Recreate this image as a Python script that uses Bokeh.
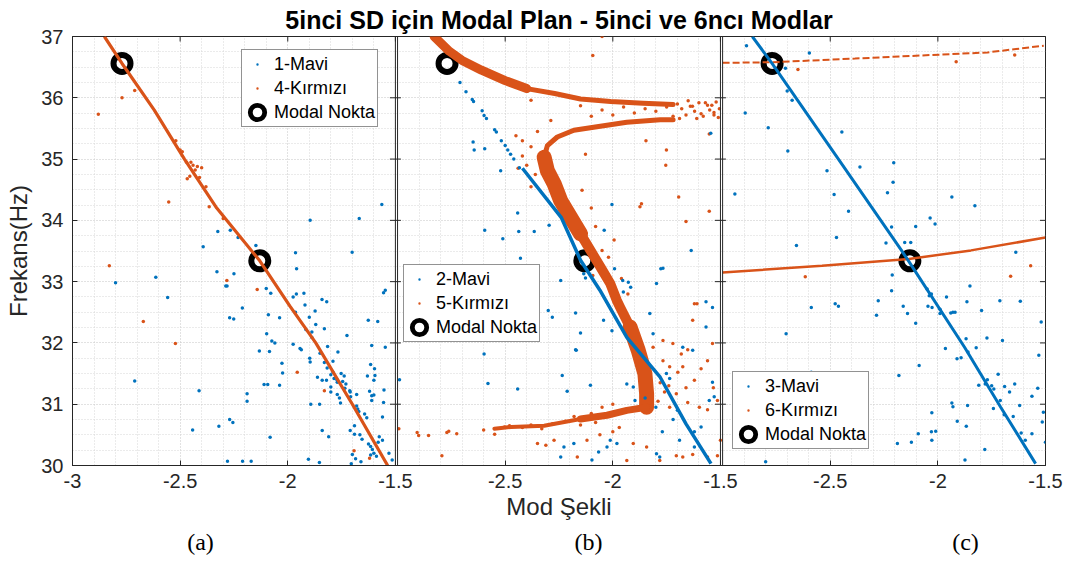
import math
from bokeh.plotting import figure
from bokeh.layouts import column
from bokeh.models import Range1d, FixedTicker, Legend, LegendItem, Span
from bokeh.core.properties import value
from bokeh.embed import file_html
from bokeh.resources import INLINE

BLUE = "#0072BD"
ORANGE = "#D95319"
INK = "#262626"
FONT = "Liberation Sans"

# ---------------- data ----------------
title_text = "5inci SD için Modal Plan - 5inci ve 6ncı Modlar"
x_tick_values = [-3, -2.5, -2, -1.5]
x_tick_labels = ["-3", "-2.5", "-2", "-1.5"]
y_tick_values = [30, 31, 32, 33, 34, 35, 36, 37]
subcaptions = ["(a)", "(b)", "(c)"]
legend_a = ["1-Mavi", "4-Kırmızı", "Modal Nokta"]
legend_b = ["2-Mavi", "5-Kırmızı", "Modal Nokta"]
legend_c = ["3-Mavi", "6-Kırmızı", "Modal Nokta"]

modal_x = [-2.77, -2.13]
modal_y = [36.56, 33.34]

# panel (a)
a_red_line_x = [-2.852, -2.77, -2.62, -2.48, -2.33, -2.13, -1.99, -1.87, -1.70, -1.536]
a_red_line_y = [37.0, 36.56, 35.8, 35.0, 34.2, 33.34, 32.6, 32.0, 31.0, 30.0]
a_red_pts_x = [-2.711, -2.77, -2.88, -2.553, -2.467, -2.455, -2.365, -2.42, -2.40, -2.30, -2.829, -2.671,
               -2.522, -1.956, -1.692, -2.283, -2.142, -2.45, -2.52, -2.49, -1.83, -1.62, -2.47, -2.43,
               -2.41, -2.38, -2.50, -2.44]
a_red_pts_y = [36.12, 36.0, 35.73, 34.30, 34.68, 34.72, 34.22, 34.88, 34.86, 34.03, 33.26, 32.35,
               31.99, 31.52, 30.24, 33.02, 32.87, 34.95, 35.3, 35.12, 31.22, 30.12, 34.95, 34.82,
               34.70, 34.55, 35.15, 34.9]
a_blue_pts_x = [-2.393, -1.964, -1.701, -2.329, -2.25, -2.282, -2.10, -2.079, -1.959, -1.96, -1.925, -1.975,
                -1.841, -1.819, -1.555, -1.547, -2.211, -2.27, -2.251, -2.09, -2.038, -1.873, -1.964, -1.626,
                -1.582, -1.916, -1.888, -1.888, -1.830, -1.725, -2.098, -2.074, -2.06, -2.132, -2.085, -1.975,
                -1.943, -1.937, -1.815, -1.767, -1.61, -1.547, -2.027, -1.898, -1.896, -2.024, -1.862, -1.817,
                -1.80, -1.785, -1.79, -1.772, -1.77, -1.752, -1.738, -1.745, -1.73, -1.735, -1.82, -1.80,
                -1.80, -1.84, -2.11, -2.093, -2.038, -2.412, -2.189, -2.189, -1.893, -1.852, -1.77, -1.76,
                -1.755, -1.71, -1.708, -1.712, -1.68, -1.68, -1.675, -1.67, -1.643, -1.633, -1.62, -1.61,
                -1.60, -1.597, -1.595, -1.60, -1.61, -1.553, -1.555, -1.56, -2.27, -2.255, -2.32, -2.442,
                -2.082, -1.84, -1.81, -1.71, -1.69, -1.665, -1.69, -1.655, -1.625, -1.615, -1.607, -1.60,
                -1.588, -1.58, -1.56, -1.575, -1.70, -1.685, -1.705, -1.66, -1.615, -1.53, -1.515, -2.28,
                -2.21, -2.17, -1.904, -1.853, -2.613, -2.558, -2.288, -2.711, -2.80, -2.325, -2.267, -2.231,
                -1.896, -1.668, -1.563, -2.148, -1.92, -1.90, -1.87, -1.85, -1.83, -1.79, -1.63, -1.615]
a_blue_pts_y = [33.57, 33.47, 33.48, 33.16, 33.13, 32.93, 32.89, 32.81, 33.21, 32.80, 32.81, 32.75,
                32.71, 32.67, 32.82, 32.86, 32.57, 32.41, 32.39, 32.46, 32.41, 32.52, 32.50, 32.37,
                32.35, 32.22, 32.18, 32.09, 32.23, 32.12, 32.15, 32.03, 32.0, 31.87, 31.86, 31.98,
                31.91, 31.89, 31.94, 31.85, 31.96, 31.93, 31.67, 31.75, 31.69, 31.51, 31.44, 31.59,
                31.48, 31.42, 31.52, 31.40, 31.36, 31.50, 31.46, 31.37, 31.33, 31.26, 31.39, 31.28,
                31.20, 31.39, 31.32, 31.32, 31.31, 31.22, 31.17, 31.05, 31.0, 31.0, 31.16, 31.10,
                31.02, 31.20, 31.12, 31.22, 31.16, 30.97, 30.92, 30.88, 30.84, 30.78, 31.21, 31.14,
                31.15, 31.58, 31.47, 31.39, 31.06, 31.23, 31.03, 30.79, 30.75, 30.70, 30.64, 30.58,
                30.46, 30.57, 30.47, 30.57, 30.51, 30.50, 30.65, 30.43, 30.35, 30.31, 30.26, 30.20,
                30.15, 30.38, 30.41, 30.47, 30.18, 30.11, 30.03, 30.06, 30.17, 30.20, 30.09, 30.07,
                30.07, 30.07, 30.10, 30.05, 33.07, 32.74, 32.93, 31.38, 32.98, 33.82, 33.84, 33.72,
                34.0, 34.03, 34.26, 33.59, 32.62, 32.42, 32.30, 31.83, 31.68, 31.70, 31.46, 31.65]

# panel (b)
b_blue_line_x = [-2.42, -2.24, -2.15, -2.06, -1.935, -1.78, -1.66, -1.544]
b_blue_line_y = [34.85, 34.05, 33.35, 32.86, 32.09, 31.44, 30.68, 30.03]
b_blue_pts_x = [-2.710, -2.682, -2.653, -2.647, -2.607, -2.598, -2.587, -2.549, -2.541, -2.518, -2.488, -2.46,
                -2.434, -2.475, -2.50, -2.649, -2.644, -2.595, -2.521, -2.442, -2.595, -2.511, -2.437, -2.365,
                -2.296, -2.429, -2.242, -2.135, -2.127, -2.04, -2.004, -1.954, -1.928, -1.917, -1.992, -1.777,
                -1.797, -1.636, -1.567, -1.951, -2.598, -2.58, -2.442, -2.991, -2.173, -2.15, -2.104, -2.212,
                -2.235, -2.004, -2.043, -2.173, -2.281, -2.30, -1.935, -1.905, -1.897, -2.012, -1.981, -2.027,
                -2.227, -2.181, -2.242, -2.097, -2.066, -1.797, -1.782, -1.69, -1.621, -1.621, -1.59, -1.552,
                -1.529, -1.537, -1.751, -1.736, -1.675, -1.629, -1.813, -1.828, -1.567, -1.537, -1.767, -2.17,
                -1.85, -1.80, -1.72, -1.70, -1.77, -1.545]
b_blue_pts_y = [36.25, 36.10, 35.97, 35.94, 35.79, 35.71, 35.66, 35.48, 35.44, 35.30, 35.15, 35.0,
                34.86, 35.08, 35.22, 35.28, 35.15, 35.17, 34.81, 34.12, 33.84, 33.70, 33.82, 33.82,
                33.92, 33.38, 33.02, 33.13, 33.06, 33.84, 34.26, 33.02, 32.99, 32.91, 33.21, 33.21,
                32.97, 33.51, 32.67, 32.83, 31.82, 31.34, 31.25, 31.40, 31.89, 32.16, 31.31, 31.21,
                31.47, 32.20, 32.37, 32.49, 32.42, 32.53, 31.33, 31.28, 31.06, 30.41, 30.36, 30.30,
                30.30, 30.36, 30.14, 30.09, 30.22, 30.19, 30.14, 30.41, 30.30, 30.55, 30.63, 31.06,
                31.12, 31.36, 31.50, 31.42, 31.93, 31.88, 32.15, 32.48, 32.26, 32.58, 33.22, 31.88,
                31.1, 30.95, 30.75, 30.9, 30.55, 35.42]
# dense orange band of (b), as centre-line pieces
b_red_band_xs = [
    [-2.83, -2.76, -2.70, -2.61, -2.50, -2.40],
    [-2.40, -2.27, -2.15, -2.01, -1.86, -1.72],
    [-1.72, -1.78, -1.935, -2.089, -2.181, -2.258, -2.304, -2.319],
    [-2.319, -2.304, -2.273, -2.242, -2.196, -2.15],
    [-2.15, -2.104, -2.058, -2.012, -1.981, -1.966, -1.92],
    [-1.92, -1.882, -1.851, -1.843, -1.843],
    [-1.843, -1.935, -2.027, -2.15],
    [-2.15, -2.319, -2.472, -2.55],
]
b_red_band_ys = [
    [37.0, 36.76, 36.61, 36.45, 36.28, 36.15],
    [36.15, 36.07, 35.98, 35.94, 35.91, 35.89],
    [35.64, 35.64, 35.60, 35.52, 35.47, 35.36, 35.22, 35.03],
    [35.03, 34.81, 34.60, 34.32, 34.05, 33.78],
    [33.78, 33.51, 33.24, 32.97, 32.69, 32.58, 32.26],
    [32.26, 31.88, 31.50, 31.17, 30.95],
    [30.95, 30.90, 30.82, 30.76],
    [30.76, 30.65, 30.63, 30.60],
]
b_red_pts_x = [-1.65, -1.62, -1.60, -1.58, -1.56, -1.55, -1.53, -1.52, -1.51, -1.505, -1.66, -1.68,
               -1.72, -1.64, -1.75, -1.80, -1.85, -1.9, -1.95, -2.0, -2.05, -2.1, -2.15, -2.093,
               -2.05, -2.38, -2.288, -2.35, -2.42, -2.45, -2.38, -2.42, -2.40, -2.36, -2.38, -2.44,
               -1.846, -1.751, -1.552, -2.127, -2.143, -1.867, -1.874, -1.754, -1.694, -1.552, -1.66, -1.994,
               -2.05, -1.609, -2.093, -2.10, -2.08, -2.02, -1.96, -1.93, -1.767, -1.736, -1.698, -1.66,
               -1.621, -1.59, -1.56, -1.533, -1.514, -1.652, -1.598, -1.56, -1.736, -1.705, -1.682, -1.721,
               -1.767, -1.813, -1.621, -1.629, -1.537, -1.652, -1.675, -1.78, -1.76, -1.79, -1.74, -1.705,
               -1.675, -1.629, -1.56, -1.514, -1.5, -1.782, -1.843, -1.905, -1.935, -2.165, -2.12, -2.35,
               -2.311, -2.273, -2.0, -1.97, -2.06, -2.994, -2.909, -2.902, -2.856, -2.794, -2.771, -2.762,
               -2.725, -2.549, -2.60, -2.503, -2.48, -2.42, -2.38, -2.33, -2.28, -2.22, -2.18, -2.10,
               -2.05, -2.0, -2.08, -2.15, -1.70, -1.63, -1.57, -1.54, -1.61, -1.69, -1.59, -1.53]
b_red_pts_y = [35.95, 35.78, 35.92, 35.70, 35.88, 35.80, 35.76, 35.93, 35.68, 35.82, 35.72, 35.82,
               35.70, 35.86, 35.85, 35.78, 35.82, 35.75, 35.85, 35.72, 35.80, 35.70, 35.87, 36.69,
               37.0, 35.96, 35.63, 35.45, 35.30, 35.38, 35.20, 35.05, 34.90, 34.75, 34.55, 34.85,
               35.30, 35.15, 35.41, 35.08, 34.49, 34.27, 34.22, 34.90, 34.38, 34.15, 33.98, 33.68,
               33.51, 32.64, 33.10, 34.2, 33.9, 33.4, 33.05, 32.8, 31.71, 31.61, 31.52, 31.27,
               31.39, 31.58, 31.71, 31.27, 31.06, 31.03, 30.95, 30.91, 30.95, 31.17, 31.82, 31.99,
               32.04, 31.93, 32.64, 32.37, 31.99, 31.89, 31.61, 31.35, 31.20, 31.05, 31.30, 30.16,
               30.14, 30.18, 30.14, 30.16, 30.41, 30.08, 30.30, 30.36, 30.08, 30.14, 30.41, 30.36,
               30.33, 30.41, 30.55, 30.62, 30.5, 30.60, 30.54, 30.49, 30.49, 30.16, 30.54, 30.56,
               30.52, 30.51, 30.58, 30.63, 30.65, 30.62, 30.66, 30.60, 30.68, 30.72, 30.80, 30.85,
               30.95, 31.0, 30.70, 30.66, 35.90, 35.86, 35.92, 35.88, 35.66, 35.66, 35.74, 35.72]

# panel (c)
c_blue_line_x = [-2.862, -2.772, -2.462, -2.169, -2.135, -1.876, -1.708, -1.546]
c_blue_line_y = [37.0, 36.57, 35.0, 33.51, 33.33, 31.93, 30.95, 30.03]
c_red_top_x = [-3.0, -2.77, -2.385, -2.077, -1.769, -1.508]
c_red_top_y = [36.57, 36.58, 36.64, 36.69, 36.74, 36.85]
c_red_low_x = [-3.0, -2.538, -2.135, -1.846, -1.5]
c_red_low_y = [33.15, 33.26, 33.37, 33.51, 33.72]
c_red_pts_x = [-2.65, -1.915, -1.643, -2.616, -1.662, -1.569]
c_red_pts_y = [36.46, 36.59, 36.70, 33.08, 33.09, 33.26]
c_blue_pts_x = [-2.889, -2.597, -2.708, -2.700, -2.677, -2.895, -2.788, -2.697, -2.446, -2.515, -2.362, -2.205,
                -2.208, -2.234, -2.943, -2.482, -2.415, -1.935, -1.828, -2.036, -2.013, -2.471, -2.657, -2.241,
                -2.215, -2.154, -2.126, -2.103, -1.638, -2.212, -2.215, -2.277, -2.285, -2.477, -2.462, -2.588,
                -2.705, -2.161, -2.141, -2.103, -2.04, -2.046, -2.027, -1.99, -1.96, -1.93, -1.94, -1.92,
                -1.865, -1.797, -1.851, -1.712, -1.617, -1.52, -1.772, -1.869, -1.965, -1.911, -1.892, -1.822,
                -1.70, -1.531, -2.087, -2.181, -2.588, -1.81, -1.78, -1.75, -1.72, -1.69, -1.643, -1.667,
                -1.536, -1.563, -1.862, -1.742, -1.71, -1.692, -1.62, -1.935, -1.93, -1.91, -1.868, -1.515,
                -1.51, -2.028, -2.01, -2.028, -2.091, -2.03, -2.188, -2.123, -1.613, -1.563, -1.594, -1.5,
                -1.874, -1.782, -2.8, -2.05, -2.03, -1.99, -1.86, -1.77, -1.74, -1.65]
c_blue_pts_y = [36.85, 36.73, 36.48, 36.11, 35.96, 35.75, 35.51, 35.13, 35.44, 34.81, 34.87, 34.94,
                34.62, 34.45, 34.43, 34.42, 34.15, 34.38, 34.24, 34.04, 33.94, 33.72, 33.59, 33.63,
                33.89, 33.64, 33.64, 33.90, 33.48, 33.11, 32.85, 32.69, 32.45, 32.64, 32.60, 32.58,
                32.15, 32.60, 32.48, 32.32, 32.77, 32.60, 32.58, 32.48, 32.75, 32.50, 32.49, 32.50,
                32.67, 32.53, 32.93, 32.69, 32.68, 32.34, 32.08, 32.07, 31.91, 31.74, 31.76, 31.92,
                32.04, 31.80, 31.63, 31.47, 31.52, 31.31, 31.33, 31.30, 31.49, 31.29, 31.33, 31.20,
                31.26, 31.13, 30.98, 30.93, 31.06, 30.83, 30.98, 31.02, 30.96, 30.72, 30.64, 30.71,
                30.87, 30.86, 30.56, 30.41, 30.52, 30.55, 30.36, 30.38, 30.53, 30.52, 30.41, 30.38,
                30.09, 30.26, 30.06, 32.88, 32.80, 32.55, 31.85, 31.40, 31.25, 30.80]

# ---------------- layout helpers ----------------
GAP = 0.01
OFFS = [3.0, 4.5 + GAP, 6.0 + 2 * GAP]   # shift of each panel on the shared canvas axis


def sh(vals, k):
    return [v + OFFS[k] for v in vals]


p = figure(width=1071, height=524, x_range=Range1d(0, 4.5 + 2 * GAP), y_range=Range1d(30, 37),
           output_backend="svg", toolbar_location=None,
           min_border_left=72, min_border_right=26, min_border_top=36, min_border_bottom=59)
p.background_fill_color = "white"
p.border_fill_color = "white"
p.outline_line_color = INK

# title
p.title.text = title_text
p.title.align = "center"
p.title.text_font = FONT
p.title.text_font_size = "25px"
p.title.text_font_style = "bold"
p.title.text_color = "black"
p.title.standoff = 5

# x ticks
major_pos, labels = [], {}
for k in range(3):
    for v, lab in zip(x_tick_values, x_tick_labels):
        if k > 0 and v == -3:
            continue
        pos = round(v + OFFS[k], 4)
        major_pos.append(pos)
        labels[pos] = lab
minor_pos = []
for k in range(3):
    for i in range(1, 15):
        if i % 5:
            minor_pos.append(round(-3 + i * 0.1 + OFFS[k], 4))
xt = FixedTicker(ticks=major_pos, minor_ticks=minor_pos)
yt = FixedTicker(ticks=y_tick_values,
                 minor_ticks=[y + q for y in y_tick_values[:-1] for q in (0.25, 0.5, 0.75)])

xa = p.xaxis[0]
xa.ticker = xt
xa.major_label_overrides = labels
ya = p.yaxis[0]
ya.ticker = yt
for ax in (xa, ya):
    ax.axis_line_color = INK
    ax.major_tick_line_color = INK
    ax.major_tick_in = 5
    ax.major_tick_out = 0
    ax.minor_tick_in = 0
    ax.minor_tick_out = 0
    ax.major_label_text_font = FONT
    ax.major_label_text_font_size = "20px"
    ax.major_label_text_color = INK
    ax.axis_label_text_font = FONT
    ax.axis_label_text_font_size = "24px"
    ax.axis_label_text_font_style = "normal"
    ax.axis_label_text_color = INK
xa.axis_label = "Mod Şekli"
xa.major_label_standoff = 8
xa.axis_label_standoff = 2
ya.axis_label = "Frekans(Hz)"
ya.major_label_standoff = 9
ya.axis_label_standoff = 6

p.xgrid.ticker = xt
p.ygrid.ticker = yt
for g in (p.xgrid, p.ygrid):
    g.grid_line_color = "#c4c4c4"
    g.grid_line_dash = "1 2"
    g.grid_line_width = 1
    g.minor_grid_line_color = "#d6d6d6"
    g.minor_grid_line_dash = "1 2"

# panel borders
for k in range(3):
    for v in (-3, -1.5):
        p.add_layout(Span(location=v + OFFS[k], dimension="height", line_color=INK, line_width=1))

# inward tick marks on the inner/right/top edges (half of each dash is clipped by the frame)
edge_x = [round(-1.5 + OFFS[k], 4) for k in range(3)]
p.scatter([ex for ex in edge_x for _ in y_tick_values], [y for _ in edge_x for y in y_tick_values],
          marker="dash", size=11, line_color=INK, line_width=1)
p.scatter(major_pos, [37] * len(major_pos), marker="dash", angle=math.pi / 2, size=10,
          line_color=INK, line_width=1)

DOT = 3.5
RING = dict(inner_radius=5.5, outer_radius=11.5, inner_radius_units="screen",
            outer_radius_units="screen", fill_color="black", line_color=None)

# ---- panel (a)
ca = p.annulus(sh(modal_x, 0), modal_y, **RING)
ba = p.scatter(sh(a_blue_pts_x, 0), a_blue_pts_y, marker="circle", size=DOT, color=BLUE, line_color=None)
p.line(sh(a_red_line_x, 0), a_red_line_y, line_color=ORANGE, line_width=3.2)
oa = p.scatter(sh(a_red_pts_x, 0), a_red_pts_y, marker="circle", size=DOT, color=ORANGE, line_color=None)

# ---- panel (b)
cb = p.annulus(sh(modal_x, 1), modal_y, **RING)
p.multi_line([sh(xs, 1) for xs in b_red_band_xs], b_red_band_ys, line_color=ORANGE,
             line_width=[9, 5, 5, 15, 10, 15, 7, 4], line_cap="round", line_join="round")
ob = p.scatter(sh(b_red_pts_x, 1), b_red_pts_y, marker="circle", size=DOT, color=ORANGE, line_color=None)
p.line(sh(b_blue_line_x, 1), b_blue_line_y, line_color=BLUE, line_width=3.5)
bb = p.scatter(sh(b_blue_pts_x, 1), b_blue_pts_y, marker="circle", size=DOT, color=BLUE, line_color=None)

# ---- panel (c)
cc = p.annulus(sh(modal_x, 2), modal_y, **RING)
p.line(sh(c_red_top_x, 2), c_red_top_y, line_color=ORANGE, line_width=2, line_dash="7 3")
p.line(sh(c_red_low_x, 2), c_red_low_y, line_color=ORANGE, line_width=2.5)
oc = p.scatter(sh(c_red_pts_x, 2), c_red_pts_y, marker="circle", size=DOT, color=ORANGE, line_color=None)
p.line(sh(c_blue_line_x, 2), c_blue_line_y, line_color=BLUE, line_width=3)
bc = p.scatter(sh(c_blue_pts_x, 2), c_blue_pts_y, marker="circle", size=DOT, color=BLUE, line_color=None)

# small-dot legend glyphs: drawn on top of the first dot of each series (no visible change in the plot)
leg_blue = p.scatter(sh(a_blue_pts_x[:1], 0), a_blue_pts_y[:1], marker="dot", size=6,
                     line_color=BLUE, fill_color=BLUE)
leg_orange = p.scatter(sh(a_red_pts_x[:1], 0), a_red_pts_y[:1], marker="dot", size=6,
                       line_color=ORANGE, fill_color=ORANGE)


def make_legend(names, rends, loc):
    lg = Legend(items=[LegendItem(label=n, renderers=[r]) for n, r in zip(names, rends)], location=loc)
    lg.label_text_font = FONT
    lg.label_text_font_size = "18px"
    lg.label_text_color = "black"
    lg.glyph_width = 26
    lg.glyph_height = 24
    lg.label_height = 24
    lg.spacing = 0
    lg.padding = 2
    lg.margin = 0
    lg.label_standoff = 4
    lg.border_line_color = INK
    lg.border_line_width = 1
    lg.background_fill_alpha = 1
    p.add_layout(lg)


make_legend(legend_a, [leg_blue, leg_orange, ca], (169, 338))
make_legend(legend_b, [leg_blue, leg_orange, cb], (331, 123))
make_legend(legend_c, [leg_blue, leg_orange, cc], (660, 16))

# sub-captions strip (its frame lines up with the main frame, 72..1045 px)
cap = figure(width=1071, height=40, x_range=Range1d(72, 1045), y_range=Range1d(0, 40),
             output_backend="svg", toolbar_location=None, min_border=0,
             x_axis_location=None, y_axis_location=None)
cap.outline_line_color = None
cap.grid.visible = False
cap.text(x=[200, 588, 965], y=[23, 23, 23], text=subcaptions, text_font=value("Liberation Serif"),
         text_font_size="24px", text_align="center", text_baseline="middle", text_color="black")

open("out.html", "w").write(file_html(column(p, cap, spacing=0), INLINE))
